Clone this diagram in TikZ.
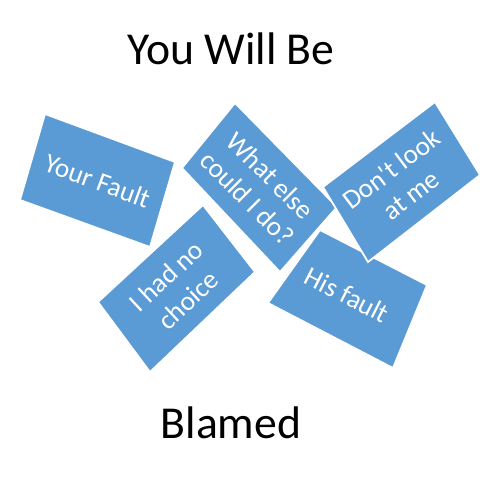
\documentclass[tikz,border=0pt]{standalone}
\usepackage{fontspec}
\setmainfont{Carlito}[Ligatures=TeXOff]
\definecolor{cardblue}{HTML}{5B9BD5}
\begin{document}
\begin{tikzpicture}[x=0.02cm,y=-0.02cm,
  card/.style={fill=cardblue,draw=white,line width=1pt,line join=miter},
  cardtext/.style={text=white,align=center,font=\fontsize{15.5}{18.5}\selectfont,inner sep=0pt},
  bigtitle/.style={font=\fontsize{26}{30}\selectfont,text=black,anchor=base,inner sep=0pt}]
\useasboundingbox[fill=white] (0,0) rectangle (500,500);
% cards
\fill[card] (45,114) -- (175,162) -- (150,247) -- (20,200) -- cycle;
\node[cardtext,rotate=-20] (t1) at (97.5,181) {Your Fault};
\fill[card] (98,302) -- (203,205) -- (255,272) -- (150,372) -- cycle;
\node[cardtext,rotate=43] (t4) at (177,288) {I had no\\choice};
\fill[card] (235,103) -- (337,207) -- (280,272) -- (182,168) -- cycle;
\node[cardtext,rotate=-45] (t2) at (259,187) {What else\\could I do?};
\fill[card] (320,230) -- (427,285) -- (393,368) -- (268,303) -- cycle;
\node[cardtext,rotate=-27] (t5) at (347,295) {His fault};
\fill[card] (323,187) -- (435,102) -- (480,175) -- (368,262) -- cycle;
\node[cardtext,rotate=37] (t3) at (401,182) {Don't look\\at me};
% titles
\node[bigtitle] (top) at (231,65) {You Will Be};
\node[bigtitle] (bottom) at (231,438) {Blamed};
\end{tikzpicture}
\end{document}
